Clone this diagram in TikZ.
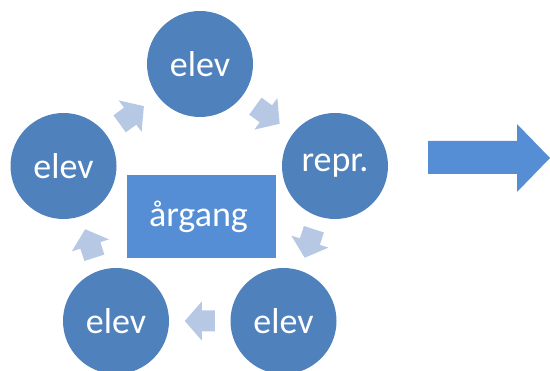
\documentclass[tikz,border=0pt]{standalone}
\usepackage{fontspec}
\setmainfont{Carlito}
\usetikzlibrary{calc}
\definecolor{circfill}{RGB}{79,129,189}
\definecolor{rectfill}{RGB}{85,142,213}
\definecolor{arrfill}{RGB}{183,200,228}
\tikzset{
  circ/.style={circle, fill=circfill, minimum size=106pt, inner sep=0pt, text=white,
    font=\fontsize{36}{40}\selectfont},
  yearbox/.style={rectangle, fill=rectfill, minimum width=149pt, minimum height=83pt,
    inner sep=0pt, text=white, font=\fontsize{36}{40}\selectfont},
  cyclearrow/.pic={
    \fill[arrfill] (-15,-10.5) -- (-2,-10.5) -- (-2,-19.5) -- (15,0) -- (-2,19.5) -- (-2,10.5) -- (-15,10.5) -- cycle;
  }
}
\begin{document}
\begin{tikzpicture}[x=1pt,y=-1pt]
\useasboundingbox (0,0) rectangle (550,371);
\node[circ] (top) at (200,64) {elev};
\node[circ] (right) at (335,166) {repr.};
\node[circ] (br) at (283.5,321) {elev};
\node[circ] (bl) at (116,321) {elev};
\node[circ] (left) at (63.5,166) {elev};
\node[yearbox] (year) at (201.5,216.5) {\hspace*{-6pt}årgang};
\pic[rotate=36] at ($(left)!0.5!(top)$) {cyclearrow};
\pic[rotate=-36] at ($(top)!0.5!(right)$) {cyclearrow};
\pic[rotate=-108] at ($(right)!0.5!(br)$) {cyclearrow};
\pic[rotate=180] at ($(br)!0.5!(bl)$) {cyclearrow};
\pic[rotate=108] at ($(bl)!0.5!(left)$) {cyclearrow};
\fill[rectfill] (428,141) -- (517,141) -- (517,124) -- (550,158) -- (517,192) -- (517,174) -- (428,174) -- cycle;
\end{tikzpicture}
\end{document}
